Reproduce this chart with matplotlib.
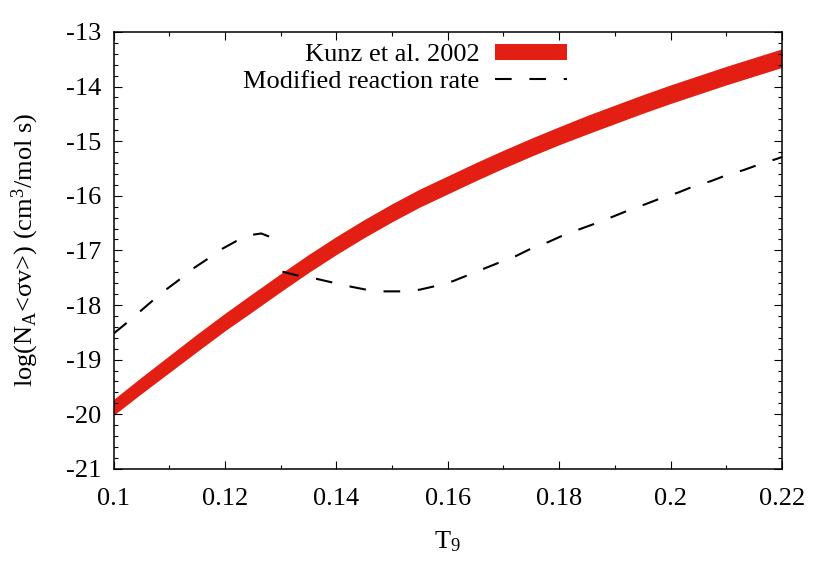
import numpy as np
import matplotlib
matplotlib.use('Agg')
from matplotlib import pyplot as plt
from matplotlib.ticker import MultipleLocator

# Kunz et al. 2002 band (centre and half width)
kunz_t9 = [0.100, 0.105, 0.110, 0.115, 0.120, 0.125, 0.130, 0.135, 0.140, 0.145, 0.150, 0.155, 0.160,
           0.165, 0.170, 0.175, 0.180, 0.185, 0.190, 0.195, 0.200, 0.205, 0.210, 0.215, 0.220]
kunz_mid = [-19.87, -19.47, -19.08, -18.69, -18.31, -17.95, -17.59, -17.24, -16.91, -16.60, -16.31, -16.04, -15.80,
            -15.56, -15.33, -15.11, -14.90, -14.70, -14.51, -14.32, -14.14, -13.97, -13.80, -13.64, -13.48]
kunz_hw = [0.145, 0.15, 0.155, 0.16, 0.16, 0.165, 0.165, 0.165, 0.165, 0.165, 0.165, 0.165, 0.165,
           0.165, 0.165, 0.165, 0.165, 0.17, 0.17, 0.17, 0.17, 0.17, 0.17, 0.17, 0.17]

# modified rate, the jump near T9=0.129 is not drawn
mod_t9 = [0.100, 0.1023, 0.1047, 0.1071, 0.1095, 0.112, 0.1143, 0.1168, 0.1195, 0.122, 0.1245, 0.1265, 0.128,
          np.nan,
          0.1303, 0.1334, 0.1364, 0.1394, 0.1424, 0.1454, 0.1487, 0.1517, 0.1549, 0.1579, 0.161, 0.1637,
          0.1666, 0.1693, 0.1723, 0.1751, 0.1782, 0.1808, 0.184, 0.1867, 0.1897, 0.1926, 0.1956, 0.1984,
          0.2014, 0.2043, 0.2073, 0.2101, 0.2131, 0.2161, 0.2192, 0.22]
mod_rate = [-18.52, -18.33, -18.12, -17.91, -17.71, -17.52, -17.33, -17.16, -16.97, -16.83, -16.72, -16.69, -16.75,
            np.nan,
            -17.39, -17.47, -17.52, -17.59, -17.66, -17.72, -17.75, -17.75, -17.72, -17.65, -17.56, -17.45,
            -17.33, -17.22, -17.10, -16.96, -16.84, -16.72, -16.60, -16.50, -16.38, -16.26, -16.15, -16.04,
            -15.94, -15.82, -15.73, -15.62, -15.53, -15.42, -15.32, -15.29]

x_ticks = [0.10, 0.12, 0.14, 0.16, 0.18, 0.20, 0.22]
x_ticklabels = ['0.1', '0.12', '0.14', '0.16', '0.18', '0.2', '0.22']
y_ticks = [-21, -20, -19, -18, -17, -16, -15, -14, -13]

plt.rcParams['font.family'] = ['Liberation Serif', 'DejaVu Serif']
plt.rcParams['mathtext.fontset'] = 'custom'
plt.rcParams['mathtext.rm'] = 'Liberation Serif'
plt.rcParams['mathtext.it'] = 'Liberation Serif:italic'
plt.rcParams['font.size'] = 19

fig = plt.figure(figsize=(8.3, 5.81), dpi=100)
ax = fig.add_axes([0.137, 0.193, 0.805, 0.752])

mid = np.array(kunz_mid)
hw = np.array(kunz_hw)
ax.fill_between(kunz_t9, mid - hw, mid + hw, color='#e31e12', lw=0, label='Kunz et al. 2002')
ax.plot(mod_t9, mod_rate, color='black', lw=1.5, dashes=(8, 8.5), label='Modified reaction rate')

ax.set_xlim(0.1, 0.22)
ax.set_ylim(-21, -13)
ax.set_xticks(x_ticks)
ax.set_xticklabels(x_ticklabels)
ax.set_yticks(y_ticks)
ax.set_yticklabels([str(v) for v in y_ticks])
ax.xaxis.set_minor_locator(MultipleLocator(0.01))
ax.yaxis.set_minor_locator(MultipleLocator(0.2))
ax.tick_params(which='both', direction='in', top=True, right=True, width=0.8)
ax.tick_params(which='major', length=5.5)
ax.tick_params(axis='x', which='major', pad=14)
ax.tick_params(axis='y', which='major', pad=9)
ax.tick_params(which='minor', length=3)
for s in ax.spines.values():
    s.set_linewidth(1.1)

ax.set_xlabel('T$_9$', labelpad=14)
ax.set_ylabel('log(N$_\\mathrm{A}$<σv>) (cm$^3$/mol s)', labelpad=18)

ax.legend(loc='upper right', bbox_to_anchor=(0.678, 0.972), frameon=False, markerfirst=False,
          handlelength=2.7, handleheight=0.55, handletextpad=0.6, labelspacing=0.15,
          borderpad=0, borderaxespad=0)

plt.savefig('out.png', dpi=100)
